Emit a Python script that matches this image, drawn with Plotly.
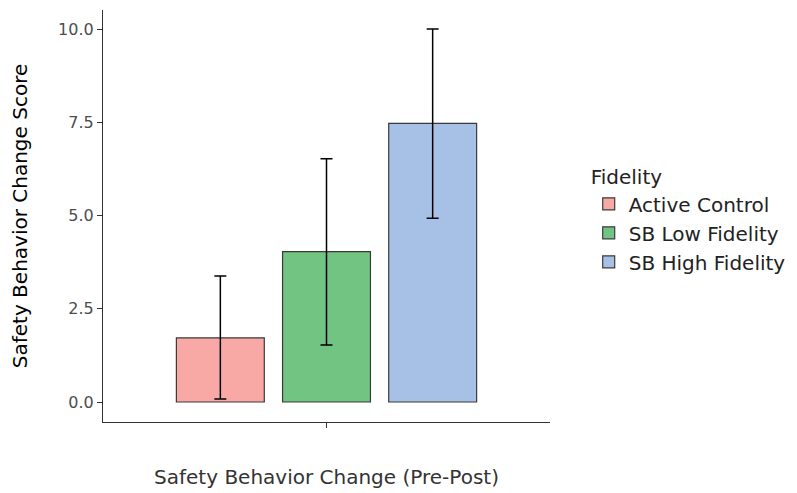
import plotly.graph_objects as go

groups = ["Active Control", "SB Low Fidelity", "SB High Fidelity"]
means = [1.72, 4.03, 7.47]
err_low = [0.08, 1.53, 4.93]
err_high = [3.38, 6.52, 10.0]
colors = ["#F8A8A5", "#72C482", "#A7C0E5"]
offsets = [-0.285, 0.0, 0.285]
y_ticks = [0.0, 2.5, 5.0, 7.5, 10.0]
y_labels = ["0.0", "2.5", "5.0", "7.5", "10.0"]

fig = go.Figure()
for g, m, lo, hi, c, off in zip(groups, means, err_low, err_high, colors, offsets):
    fig.add_trace(go.Bar(
        x=[1 + off], y=[m], width=0.236, name=g,
        marker=dict(color=c, line=dict(color="#3a3a3a", width=1.2)),
        error_y=dict(type="data", symmetric=False, array=[hi - m], arrayminus=[m - lo],
                     color="black", thickness=1.5, width=6),
    ))

font = "DejaVu Sans, Liberation Sans, Arial, sans-serif"
fig.update_layout(
    width=789, height=485,
    margin=dict(l=95, r=247, t=2, b=71),
    plot_bgcolor="white", paper_bgcolor="white",
    barmode="overlay",
    font=dict(family=font, color="#333333"),
    xaxis=dict(range=[0.4, 1.6], tickvals=[1], ticktext=[""], ticks="outside", ticklen=5,
               tickcolor="#333333", showline=True, linecolor="#333333", linewidth=1.2,
               showgrid=False, zeroline=False,
               title=dict(text="Safety Behavior Change (Pre-Post)", font=dict(size=20, color="#333333"), standoff=40)),
    yaxis=dict(range=[-0.536, 10.51], tickvals=y_ticks, ticktext=y_labels, ticks="outside", ticklen=5,
               tickcolor="#333333", showline=True, linecolor="#333333", linewidth=1.2,
               showgrid=False, zeroline=False, tickfont=dict(size=16, color="#4d4d4d"),
               title=dict(text="Safety Behavior Change Score", font=dict(size=20, color="black"), standoff=26)),
    legend=dict(xref="container", yref="container", x=0.736, y=0.69, xanchor="left", yanchor="top",
                title=dict(text="Fidelity", font=dict(size=20, color="#222222"), side="top"),
                font=dict(size=20, color="#222222"), tracegroupgap=0),
)
fig.write_html("out.html")
